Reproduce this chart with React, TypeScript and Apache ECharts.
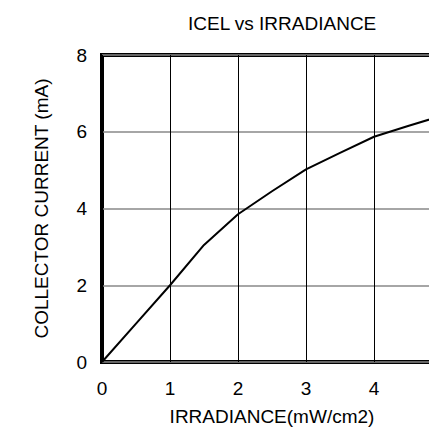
import React, { useEffect, useRef } from "react";
import * as echarts from "echarts";

const irradiance = [0, 0.5, 1, 1.5, 2, 2.5, 3, 3.5, 4, 4.5, 5];
const current = [0, 1.0, 2.0, 3.05, 3.85, 4.45, 5.02, 5.45, 5.87, 6.15, 6.42];
const xTicks = [0, 1, 2, 3, 4];
const yTicks = [0, 2, 4, 6, 8];

export default function App() {
  const ref = useRef<HTMLDivElement>(null);
  useEffect(() => {
    const chart = echarts.init(ref.current!, null, { renderer: "svg" });
    const font = "Liberation Sans, Arial, sans-serif";
    chart.setOption({
      animation: false,
      backgroundColor: "#fff",
      title: {
        text: "ICEL vs IRRADIANCE",
        left: 183,
        top: 9,
        textStyle: { fontFamily: font, fontSize: 19, fontWeight: "normal", color: "#000" },
      },
      grid: {
        left: 102,
        top: 55,
        bottom: 70,
        right: 18,
        show: true,
        borderColor: "#000",
        borderWidth: 4,
      },
      xAxis: {
        type: "value",
        min: 0,
        max: 5,
        interval: 1,
        name: "IRRADIANCE(mW/cm2)",
        nameLocation: "middle",
        nameGap: 45,
        nameTextStyle: { fontFamily: font, fontSize: 19, color: "#000" },
        axisLine: { show: false },
        axisTick: { show: false },
        axisLabel: {
          fontFamily: font,
          fontSize: 19,
          color: "#000",
          margin: 17,
          formatter: (v: number) => (xTicks.includes(v) ? String(v) : ""),
        },
        splitLine: { show: true, lineStyle: { color: "#000", width: 1 } },
      },
      yAxis: {
        type: "value",
        min: 0,
        max: 8,
        interval: 2,
        name: "COLLECTOR CURRENT (mA)",
        nameLocation: "middle",
        nameRotate: 90,
        nameGap: 51,
        nameTextStyle: { fontFamily: font, fontSize: 19, color: "#000" },
        axisLine: { show: false },
        axisTick: { show: false },
        axisLabel: {
          fontFamily: font,
          fontSize: 19,
          color: "#000",
          margin: 15,
          formatter: (v: number) => (yTicks.includes(v) ? String(v) : ""),
        },
        splitLine: { show: true, lineStyle: { color: "#888", width: 1.5 } },
      },
      series: [
        {
          type: "line",
          data: irradiance.map((x, i) => [x, current[i]]),
          showSymbol: false,
          lineStyle: { color: "#000", width: 2 },
          clip: true,
        },
      ],
    });
    return () => chart.dispose();
  }, []);
  return (
    <div style={{ position: "absolute", left: 0, top: 0, width: 429, height: 432, overflow: "hidden" }}>
      <div ref={ref} style={{ width: 460, height: 432 }} />
    </div>
  );
}
